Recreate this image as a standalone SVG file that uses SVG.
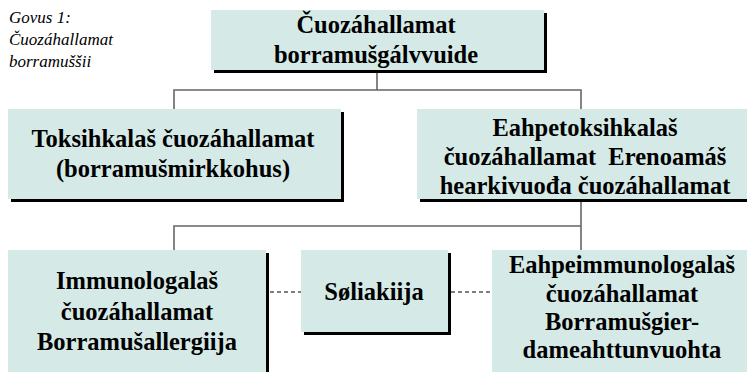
<svg xmlns="http://www.w3.org/2000/svg" width="747" height="372" viewBox="0 0 747 372">
<style>
.box{fill:#D5EAE6;}
.sh{fill:#000;}
.t{font-family:"Liberation Serif","Times New Roman",serif;font-weight:bold;font-size:24.5px;fill:#000;text-anchor:middle;}
.cap{font-family:"Liberation Serif","Times New Roman",serif;font-style:italic;font-size:17px;fill:#000;}
.ln{stroke:#666;stroke-width:1.6;fill:none;}
.dash{stroke:#555;stroke-width:1.4;fill:none;stroke-dasharray:4 3;}
</style>
<rect width="747" height="372" fill="#fff"/>
<g id="caption">
<text class="cap" x="9" y="23">Govus 1:</text>
<text class="cap" x="9" y="45">Čuozáhallamat</text>
<text class="cap" x="9" y="67">borramuššii</text>
</g>
<g id="connectors">
<polyline class="ln" points="377,72 377,90"/>
<polyline class="ln" points="174,109 174,90 581,90 581,109"/>
<polyline class="ln" points="581,201 581,250"/>
<polyline class="ln" points="174,250 174,226 581,226"/>
<line class="dash" x1="270" y1="292" x2="301" y2="292"/>
<line class="dash" x1="451" y1="292" x2="492" y2="292"/>
</g>
<g id="root">
<rect class="sh" x="214" y="13" width="333" height="60"/>
<rect class="box" x="211" y="10" width="333" height="60"/>
<text class="t" x="376" y="33">Čuozáhallamat</text>
<text class="t" x="376" y="63">borramušgálvvuide</text>
</g>
<g id="toxic">
<rect class="sh" x="11" y="112" width="333" height="90"/>
<rect class="box" x="8" y="109" width="333" height="90"/>
<text class="t" x="173" y="147">Toksihkalaš čuozáhallamat</text>
<text class="t" x="173" y="177">(borramušmirkkohus)</text>
</g>
<g id="nontoxic">
<rect class="sh" x="420" y="112" width="340" height="90"/>
<rect class="box" x="417" y="109" width="340" height="90"/>
<text class="t" x="585" y="136">Eahpetoksihkalaš</text>
<text class="t" x="585" y="165">čuozáhallamat&#160; Erenoamáš</text>
<text class="t" x="585" y="194">hearkivuođa čuozáhallamat</text>
</g>
<g id="immuno">
<rect class="sh" x="11" y="253" width="258" height="130"/>
<rect class="box" x="8" y="250" width="258" height="130"/>
<text class="t" x="137" y="289">Immunologalaš</text>
<text class="t" x="137" y="320">čuozáhallamat</text>
<text class="t" x="137" y="350">Borramušallergiija</text>
</g>
<g id="celiac">
<rect class="sh" x="304" y="253" width="147" height="82"/>
<rect class="box" x="301" y="250" width="147" height="82"/>
<text class="t" x="374" y="300">Søliakiija</text>
</g>
<g id="nonimmuno">
<rect class="sh" x="495" y="253" width="260" height="130"/>
<rect class="box" x="492" y="250" width="260" height="130"/>
<text class="t" x="622" y="273">Eahpeimmunologalaš</text>
<text class="t" x="622" y="302">čuozáhallamat</text>
<text class="t" x="622" y="330">Borramušgier-</text>
<text class="t" x="622" y="358">dameahttunvuohta</text>
</g>
</svg>
